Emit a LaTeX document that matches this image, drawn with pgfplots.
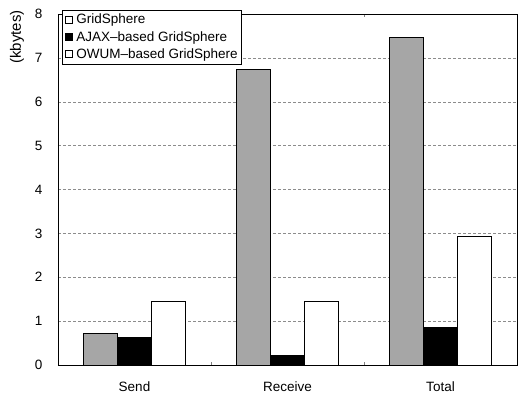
\documentclass[border=0pt]{standalone}
\usepackage{pgfplots}
\pgfplotsset{compat=1.18}
\usepackage{fontspec}
\setmainfont{Liberation Sans}
\begin{document}
\begin{tikzpicture}[x=1pt,y=1pt]
\begin{axis}[
  at={(0,0)}, anchor=south west,
  scale only axis, width=459pt, height=351pt,
  font=\fontsize{13.5}{15}\selectfont,
  ymin=0, ymax=8, ytick={0,1,...,8},
  xmin=-0.5, xmax=2.5,
  xtick={0,1,2}, xticklabels={Send,Receive,Total},
  minor xtick={0.5,1.5},
  major x tick style={draw=none},
  minor tick length=3pt,
  major tick length=0pt,
  xticklabel style={yshift=-13pt},
  yticklabel style={xshift=-12pt},
  ymajorgrids, grid style={densely dashed, black!45, line width=0.4pt},
  axis line style={black, line width=0.8pt},
  bar width=34pt,
  /pgf/number format/assume math mode=true,
  legend style={at={(rel axis cs:0.009,1.012)}, anchor=north west, draw=black, line width=0.6pt,
    font=\fontsize{13.5}{15}\selectfont, inner sep=2pt, row sep=2pt, cells={anchor=west}},
  legend cell align=left,
  legend image code/.code={\draw[#1, line width=0.8pt] (0pt,-3.5pt) rectangle (7pt,3.5pt); \path[draw=none, fill=none] (-1pt,0pt) -- (9pt,0pt);},
]
\addplot[ybar, bar shift=-34pt, fill=black!35, draw=black, line width=0.8pt, forget plot] coordinates {(0,0.72) (1,6.74) (2,7.46)};
\addplot[ybar, bar shift=0pt, fill=black, draw=black, line width=0.8pt, forget plot] coordinates {(0,0.63) (1,0.22) (2,0.85)};
\addplot[ybar, bar shift=34pt, fill=white, draw=black, line width=0.8pt, forget plot] coordinates {(0,1.46) (1,1.44) (2,2.94)};
\addlegendimage{fill=white, draw=black}
\addlegendentry{GridSphere}
\addlegendimage{fill=black, draw=black}
\addlegendentry{AJAX--based GridSphere}
\addlegendimage{fill=white, draw=black}
\addlegendentry{OWUM--based GridSphere}
\end{axis}
\node[rotate=90, font=\fontsize{15}{17}\selectfont] at (-41,328) {(kbytes)};
\pgfresetboundingbox
\path (-58,-28) rectangle (461,365);
\end{tikzpicture}
\end{document}
